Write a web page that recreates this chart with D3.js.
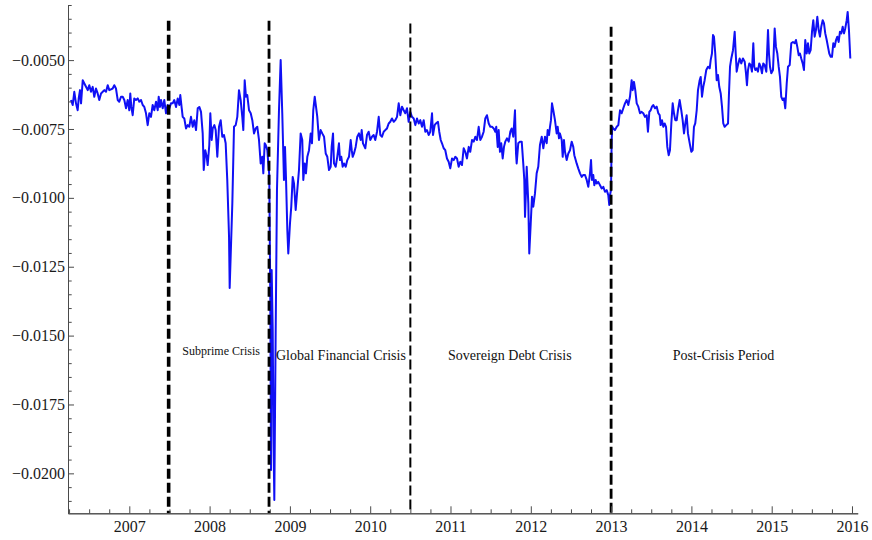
<!DOCTYPE html>
<html>
<head>
<meta charset="utf-8">
<script src="https://cdn.jsdelivr.net/npm/d3@7"></script>
<style>
  body { margin: 0; background: #fff; }
  svg { display: block; }
</style>
</head>
<body>
<svg id="chart" width="872" height="540"></svg>
<script>
// Weekly spread series: [decimal year, value]
const spreadSeries = [
  [2006.274,-0.00645],[2006.295,-0.00663],[2006.315,-0.00615],[2006.336,-0.00657],[2006.357,-0.00682],[2006.370,-0.00639],[2006.386,-0.00609],[2006.399,-0.00657],[2006.420,-0.00573],[2006.440,-0.00585],
  [2006.461,-0.00597],[2006.482,-0.00609],[2006.502,-0.00591],[2006.523,-0.00615],[2006.544,-0.00597],[2006.564,-0.00633],[2006.585,-0.00603],[2006.606,-0.00621],[2006.626,-0.00645],[2006.648,-0.00621],
  [2006.669,-0.00615],[2006.689,-0.00609],[2006.710,-0.00615],[2006.731,-0.00591],[2006.751,-0.00609],[2006.772,-0.00606],[2006.793,-0.00603],[2006.813,-0.00591],[2006.834,-0.00603],[2006.856,-0.00645],
  [2006.875,-0.00651],[2006.897,-0.00633],[2006.918,-0.00633],[2006.938,-0.00645],[2006.959,-0.00675],[2006.980,-0.00645],[2007.000,-0.00682],[2007.012,-0.00621],[2007.025,-0.00670],[2007.042,-0.00700],
  [2007.062,-0.00639],[2007.083,-0.00645],[2007.105,-0.00639],[2007.125,-0.00651],[2007.146,-0.00645],[2007.167,-0.00663],[2007.187,-0.00670],[2007.208,-0.00693],[2007.229,-0.00736],[2007.249,-0.00693],
  [2007.270,-0.00706],[2007.291,-0.00663],[2007.311,-0.00682],[2007.333,-0.00651],[2007.354,-0.00682],[2007.366,-0.00633],[2007.382,-0.00670],[2007.395,-0.00645],[2007.416,-0.00675],[2007.436,-0.00645],
  [2007.457,-0.00693],[2007.478,-0.00663],[2007.498,-0.00675],[2007.519,-0.00657],[2007.540,-0.00657],[2007.560,-0.00645],[2007.582,-0.00670],[2007.603,-0.00639],[2007.623,-0.00663],[2007.635,-0.00627],
  [2007.653,-0.00675],[2007.665,-0.00706],[2007.685,-0.00712],[2007.706,-0.00748],[2007.727,-0.00736],[2007.747,-0.00742],[2007.768,-0.00706],[2007.790,-0.00742],[2007.809,-0.00718],[2007.831,-0.00754],
  [2007.852,-0.00675],[2007.872,-0.00670],[2007.893,-0.00688],[2007.914,-0.00766],[2007.927,-0.00899],[2007.946,-0.00827],[2007.964,-0.00851],[2007.976,-0.00881],[2007.996,-0.00809],[2008.009,-0.00693],
  [2008.026,-0.00790],[2008.039,-0.00748],[2008.059,-0.00736],
  [2008.076,-0.00754],[2008.096,-0.00851],[2008.117,-0.00742],[2008.138,-0.00718],[2008.158,-0.00778],[2008.179,-0.00772],[2008.200,-0.00802],[2008.220,-0.00935],[2008.242,-0.01141],[2008.250,-0.01327],
  [2008.283,-0.01020],[2008.304,-0.00742],[2008.325,-0.00736],[2008.345,-0.00706],[2008.366,-0.00609],[2008.387,-0.00645],[2008.407,-0.00706],[2008.420,-0.00754],[2008.437,-0.00573],[2008.453,-0.00633],
  [2008.469,-0.00627],[2008.491,-0.00682],[2008.512,-0.00693],[2008.532,-0.00718],[2008.553,-0.00766],[2008.574,-0.00748],[2008.594,-0.00742],[2008.615,-0.00790],[2008.636,-0.00875],[2008.656,-0.00851],
  [2008.669,-0.00911],[2008.686,-0.00802],[2008.699,-0.00808],[2008.719,-0.00827],[2008.731,-0.00875],[2008.743,-0.00917],[2008.756,-0.01371],[2008.765,-0.01988],[2008.773,-0.01262],[2008.786,-0.01480],
  [2008.796,-0.01879],[2008.806,-0.02097],[2008.823,-0.01480],[2008.839,-0.00972],[2008.864,-0.00682],[2008.885,-0.00500],[2008.905,-0.00693],[2008.926,-0.00935],[2008.939,-0.00815],[2008.951,-0.00924],
  [2008.968,-0.01117],[2008.980,-0.01202],[2009.001,-0.01093],[2009.017,-0.01032],[2009.035,-0.00924],[2009.051,-0.00948],[2009.072,-0.01044],[2009.092,-0.00972],[2009.113,-0.00899],[2009.134,-0.00766],
  [2009.154,-0.00790],[2009.167,-0.00935],[2009.184,-0.00875],[2009.200,-0.00911],[2009.217,-0.00851],[2009.238,-0.00827],[2009.259,-0.00766],[2009.275,-0.00802],[2009.291,-0.00682],[2009.309,-0.00633],
  [2009.325,-0.00669],[2009.341,-0.00706],[2009.362,-0.00790],[2009.383,-0.00754],[2009.403,-0.00766],[2009.425,-0.00778],[2009.446,-0.00839],[2009.466,-0.00851],[2009.487,-0.00899],[2009.508,-0.00887],
  [2009.520,-0.00815],[2009.537,-0.00766],[2009.549,-0.00875],[2009.570,-0.00887],[2009.590,-0.00851],[2009.611,-0.00802],[2009.624,-0.00863],[2009.640,-0.00851],[2009.657,-0.00887],[2009.674,-0.00875],
  [2009.695,-0.00887],[2009.715,-0.00863],[2009.736,-0.00851],[2009.757,-0.00790],[2009.770,-0.00827],[2009.782,-0.00851],[2009.798,-0.00839],[2009.819,-0.00815],[2009.839,-0.00778],[2009.860,-0.00766],
  [2009.882,-0.00790],[2009.894,-0.00754],[2009.910,-0.00802],
  [2009.939,-0.00820],[2009.960,-0.00772],[2009.981,-0.00760],[2010.001,-0.00790],[2010.022,-0.00778],[2010.043,-0.00772],[2010.063,-0.00790],[2010.085,-0.00760],[2010.106,-0.00706],[2010.126,-0.00772],
  [2010.147,-0.00778],[2010.168,-0.00760],[2010.188,-0.00754],[2010.209,-0.00748],[2010.230,-0.00730],[2010.250,-0.00724],[2010.271,-0.00712],[2010.293,-0.00724],[2010.312,-0.00718],[2010.334,-0.00706],
  [2010.355,-0.00657],[2010.375,-0.00700],[2010.396,-0.00669],[2010.417,-0.00682],[2010.437,-0.00693],[2010.458,-0.00675],[2010.479,-0.00724],[2010.499,-0.00688],[2010.520,-0.00706],[2010.542,-0.00712],
  [2010.562,-0.00736],[2010.583,-0.00712],[2010.604,-0.00730],[2010.624,-0.00718],[2010.645,-0.00742],[2010.666,-0.00718],[2010.686,-0.00760],[2010.707,-0.00754],[2010.728,-0.00772],[2010.748,-0.00760],
  [2010.770,-0.00693],[2010.782,-0.00772],[2010.803,-0.00736],[2010.819,-0.00730],[2010.844,-0.00724],[2010.860,-0.00760],[2010.878,-0.00790],[2010.894,-0.00802],[2010.915,-0.00820],[2010.935,-0.00827],
  [2010.956,-0.00857],[2010.977,-0.00869],[2010.997,-0.00893],[2011.019,-0.00857],[2011.040,-0.00863],[2011.060,-0.00851],[2011.081,-0.00857],[2011.102,-0.00887],[2011.122,-0.00869],[2011.143,-0.00881],
  [2011.164,-0.00820],[2011.184,-0.00833],[2011.205,-0.00857],[2011.227,-0.00815],[2011.246,-0.00833],[2011.268,-0.00790],[2011.289,-0.00796],[2011.309,-0.00778],[2011.330,-0.00790],[2011.351,-0.00742],
  [2011.371,-0.00790],[2011.392,-0.00778],[2011.413,-0.00760],[2011.433,-0.00712],[2011.454,-0.00700],[2011.476,-0.00730],[2011.496,-0.00742],[2011.517,-0.00742],[2011.538,-0.00748],[2011.558,-0.00760],
  [2011.570,-0.00742],[2011.588,-0.00815],[2011.600,-0.00754],[2011.616,-0.00833],[2011.632,-0.00802],[2011.650,-0.00857],[2011.666,-0.00815],[2011.682,-0.00796],[2011.703,-0.00784],[2011.725,-0.00796],
  [2011.745,-0.00760],
  [2011.762,-0.00748],[2011.782,-0.00778],[2011.803,-0.00682],[2011.816,-0.00839],[2011.824,-0.00875],[2011.844,-0.00802],[2011.865,-0.00796],[2011.887,-0.00796],[2011.906,-0.00875],[2011.919,-0.00935],
  [2011.928,-0.01069],[2011.940,-0.00972],[2011.949,-0.00887],[2011.969,-0.01020],[2011.981,-0.01202],[2011.999,-0.01093],[2012.015,-0.00996],[2012.031,-0.01032],[2012.052,-0.00984],[2012.073,-0.00911],
  [2012.093,-0.00887],[2012.114,-0.00808],[2012.136,-0.00778],[2012.156,-0.00820],[2012.177,-0.00778],[2012.198,-0.00802],[2012.210,-0.00754],[2012.227,-0.00772],[2012.239,-0.00742],[2012.251,-0.00718],
  [2012.264,-0.00657],[2012.280,-0.00682],[2012.301,-0.00718],[2012.322,-0.00766],[2012.335,-0.00742],[2012.351,-0.00784],[2012.363,-0.00766],[2012.385,-0.00790],[2012.397,-0.00851],[2012.413,-0.00790],
  [2012.426,-0.00833],[2012.447,-0.00863],[2012.467,-0.00839],[2012.488,-0.00827],[2012.509,-0.00796],[2012.529,-0.00815],[2012.542,-0.00845],[2012.559,-0.00863],[2012.571,-0.00875],[2012.591,-0.00893],
  [2012.613,-0.00911],[2012.634,-0.00924],[2012.654,-0.00917],[2012.675,-0.00917],[2012.696,-0.00935],[2012.716,-0.00960],[2012.737,-0.00911],[2012.750,-0.00863],[2012.762,-0.00935],[2012.778,-0.00917],
  [2012.791,-0.00954],[2012.808,-0.00935],[2012.821,-0.00948],[2012.840,-0.00942],[2012.862,-0.00954],[2012.883,-0.00966],[2012.903,-0.00960],[2012.924,-0.00978],[2012.945,-0.00972],[2012.965,-0.00990],
  [2012.977,-0.01026],[2012.990,-0.00984],[2012.999,-0.00972],[2013.007,-0.00790],[2013.015,-0.00742],[2013.027,-0.00748],[2013.048,-0.00754],[2013.070,-0.00742],[2013.090,-0.00736],[2013.111,-0.00682],
  [2013.132,-0.00693],[2013.152,-0.00675],[2013.173,-0.00657],[2013.194,-0.00645],[2013.214,-0.00663],[2013.235,-0.00633],[2013.256,-0.00573],[2013.269,-0.00609],[2013.285,-0.00579],[2013.301,-0.00609],
  [2013.319,-0.00657],[2013.339,-0.00669],[2013.360,-0.00693],[2013.381,-0.00688],[2013.401,-0.00693],[2013.422,-0.00706],[2013.443,-0.00700],[2013.459,-0.00760],[2013.476,-0.00688],[2013.493,-0.00682],
  [2013.509,-0.00669],[2013.525,-0.00663],[2013.547,-0.00675],[2013.568,-0.00669],[2013.588,-0.00693],
  [2013.605,-0.00700],[2013.617,-0.00736],[2013.634,-0.00718],[2013.650,-0.00742],[2013.667,-0.00730],[2013.684,-0.00742],[2013.700,-0.00815],[2013.717,-0.00845],[2013.733,-0.00827],[2013.750,-0.00730],
  [2013.767,-0.00657],[2013.783,-0.00693],[2013.799,-0.00718],[2013.817,-0.00718],[2013.833,-0.00682],[2013.854,-0.00645],[2013.874,-0.00682],[2013.891,-0.00718],[2013.908,-0.00766],[2013.924,-0.00730],
  [2013.941,-0.00700],[2013.957,-0.00766],[2013.979,-0.00802],[2013.999,-0.00833],[2014.016,-0.00827],[2014.032,-0.00742],[2014.048,-0.00730],[2014.066,-0.00682],[2014.082,-0.00609],[2014.103,-0.00573],
  [2014.116,-0.00561],[2014.132,-0.00633],[2014.148,-0.00597],[2014.165,-0.00573],[2014.185,-0.00536],[2014.207,-0.00524],[2014.228,-0.00530],[2014.240,-0.00500],[2014.256,-0.00476],[2014.269,-0.00409],
  [2014.281,-0.00415],[2014.297,-0.00476],[2014.315,-0.00573],[2014.331,-0.00554],[2014.347,-0.00597],[2014.365,-0.00621],[2014.381,-0.00669],[2014.397,-0.00730],[2014.414,-0.00742],[2014.434,-0.00736],
  [2014.456,-0.00730],[2014.468,-0.00621],[2014.481,-0.00524],[2014.497,-0.00494],[2014.518,-0.00464],[2014.539,-0.00397],[2014.552,-0.00476],[2014.564,-0.00542],[2014.580,-0.00518],[2014.601,-0.00494],
  [2014.621,-0.00512],[2014.642,-0.00494],[2014.664,-0.00506],[2014.680,-0.00548],[2014.692,-0.00591],[2014.705,-0.00536],[2014.721,-0.00512],[2014.738,-0.00518],[2014.754,-0.00542],[2014.771,-0.00439],
  [2014.783,-0.00524],[2014.796,-0.00536],[2014.813,-0.00530],[2014.829,-0.00542],[2014.845,-0.00512],[2014.863,-0.00524],[2014.879,-0.00548],[2014.895,-0.00512],[2014.913,-0.00518],[2014.933,-0.00542],
  [2014.954,-0.00391],[2014.966,-0.00476],[2014.979,-0.00524],[2014.995,-0.00548],[2015.016,-0.00536],[2015.037,-0.00385],[2015.053,-0.00452],[2015.070,-0.00476],[2015.087,-0.00524],[2015.103,-0.00561],
  [2015.119,-0.00633],[2015.137,-0.00645],[2015.153,-0.00639],[2015.169,-0.00675],[2015.187,-0.00585],[2015.203,-0.00524],[2015.224,-0.00518],[2015.244,-0.00439],[2015.265,-0.00434],[2015.286,-0.00439],
  [2015.302,-0.00427],[2015.319,-0.00452],[2015.336,-0.00482],[2015.352,-0.00476],[2015.368,-0.00494],[2015.386,-0.00512],[2015.402,-0.00536],[2015.418,-0.00427],[2015.436,-0.00476],[2015.452,-0.00439],
  [2015.468,-0.00476],[2015.485,-0.00464],[2015.502,-0.00397],[2015.518,-0.00355],[2015.535,-0.00415],[2015.551,-0.00391],[2015.568,-0.00343],[2015.585,-0.00391],[2015.601,-0.00415],[2015.617,-0.00379],
  [2015.635,-0.00355],[2015.651,-0.00367],[2015.667,-0.00403],[2015.685,-0.00427],[2015.701,-0.00452],[2015.717,-0.00476],[2015.735,-0.00488],[2015.751,-0.00488],[2015.767,-0.00439],[2015.784,-0.00452],
  [2015.801,-0.00427],[2015.817,-0.00415],[2015.834,-0.00434],[2015.850,-0.00397],[2015.867,-0.00403],[2015.884,-0.00379],[2015.900,-0.00403],[2015.916,-0.00385],[2015.934,-0.00355],[2015.946,-0.00325],
  [2015.962,-0.00391],[2015.979,-0.00494]
];

// Axis ticks
const yearTicks = [2007, 2008, 2009, 2010, 2011, 2012, 2013, 2014, 2015, 2016];
const yearMinorTicks = d3.range(2006.25, 2016, 0.25).filter(t => !Number.isInteger(t));
const spreadTicks = [-0.0200, -0.0175, -0.0150, -0.0125, -0.0100, -0.0075, -0.0050];
const spreadMinorTicks = d3.range(-0.0210, -0.00299, 0.0005).map(v => +v.toFixed(4))
  .filter(v => !spreadTicks.some(t => Math.abs(t - v) < 1e-9));

// Period boundaries and their labels
const breakYears = [2007.49, 2008.74, 2010.50, 2013.00];
const breakTops = [-0.00357, -0.00357, -0.00367, -0.00379];
const periodLabels = ["Subprime Crisis", "Global Financial Crisis", "Sovereign Debt Crisis", "Post-Crisis Period"];
const labelYears = [2007.660, 2008.827, 2010.969, 2013.767];
const labelLevels = [-0.01572, -0.01587, -0.01587, -0.01587];

// Styling
const breakWidths = [3.6, 2.8, 2.0, 2.8];
const labelSizes = [12, 14, 14, 14];
const serif = "'Liberation Serif', 'Times New Roman', Times, serif";

const svg = d3.select("#chart");
const x = d3.scaleLinear().domain([2006.2366, 2016.071]).range([68, 857.7]);
const y = d3.scaleLinear().domain([-0.02145, -0.0030]).range([513.3, 5]);

// Series line
const line = d3.line().x(d => x(d[0])).y(d => y(d[1]));
svg.append("path")
  .datum(spreadSeries)
  .attr("fill", "none")
  .attr("stroke", "#1010f5")
  .attr("stroke-width", 2)
  .attr("stroke-linejoin", "round")
  .attr("d", line);

// Dashed period boundaries
svg.append("g").selectAll("line")
  .data(breakYears)
  .join("line")
  .attr("x1", d => x(d)).attr("x2", d => x(d))
  .attr("y1", (d, i) => y(breakTops[i]))
  .attr("y2", y(y.domain()[0]))
  .attr("stroke", "#000")
  .attr("stroke-width", (d, i) => breakWidths[i])
  .attr("stroke-dasharray", "10,4");

// Period labels
svg.append("g").selectAll("text")
  .data(periodLabels)
  .join("text")
  .attr("x", (d, i) => x(labelYears[i]))
  .attr("y", (d, i) => y(labelLevels[i]))
  .attr("font-family", serif)
  .attr("font-size", (d, i) => labelSizes[i])
  .attr("fill", "#111")
  .text(d => d);

// Axes (ticks point into the plot)
const axisColor = "#4a4a4a";
function styleAxis(g) {
  g.select(".domain").attr("stroke", axisColor).attr("stroke-width", 1);
  g.selectAll(".tick line").attr("stroke", axisColor).attr("stroke-width", 1);
  g.selectAll(".tick text").attr("font-family", serif).attr("font-size", 16).attr("fill", "#1a1a1a");
}

const xMinor = svg.append("g").attr("transform", `translate(0,${y.range()[0]})`)
  .call(d3.axisBottom(x).tickValues(yearMinorTicks).tickSize(-4).tickSizeOuter(0).tickFormat(""));
styleAxis(xMinor);
const xMajor = svg.append("g").attr("transform", `translate(0,${y.range()[0]})`)
  .call(d3.axisBottom(x).tickValues(yearTicks).tickSize(-7).tickSizeOuter(0).tickPadding(7.5).tickFormat(d3.format("d")));
styleAxis(xMajor);

const yMinor = svg.append("g").attr("transform", `translate(${x.range()[0]},0)`)
  .call(d3.axisLeft(y).tickValues(spreadMinorTicks).tickSize(-3.7).tickSizeOuter(0).tickFormat(""));
styleAxis(yMinor);
const yMajor = svg.append("g").attr("transform", `translate(${x.range()[0]},0)`)
  .call(d3.axisLeft(y).tickValues(spreadTicks).tickSize(-6).tickSizeOuter(0).tickPadding(3).tickFormat(d3.format(".4f")));
styleAxis(yMajor);
</script>
</body>
</html>
